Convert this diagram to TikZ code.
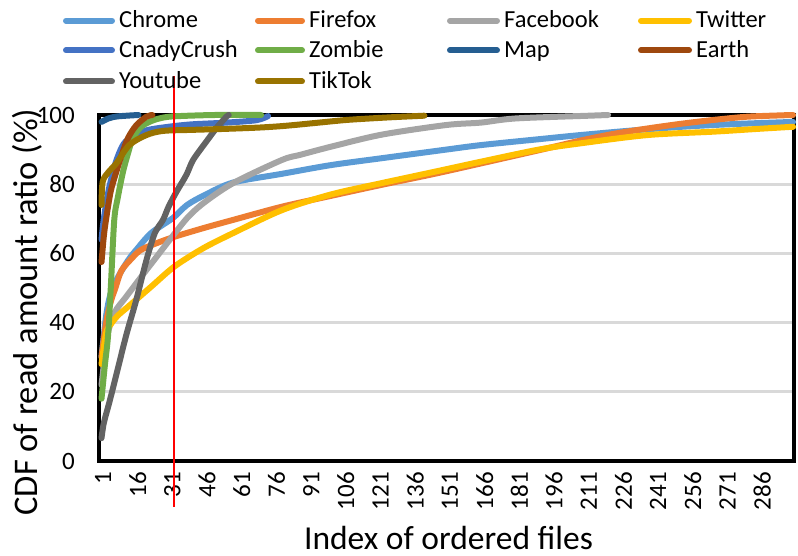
\documentclass[tikz,border=0pt]{standalone}
\usepackage{fontspec}
\setmainfont{Carlito}
\definecolor{cChrome}{HTML}{5B9BD5}
\definecolor{cFirefox}{HTML}{ED7D31}
\definecolor{cFacebook}{HTML}{A5A5A5}
\definecolor{cTwitter}{HTML}{FFC000}
\definecolor{cCandy}{HTML}{4472C4}
\definecolor{cZombie}{HTML}{70AD47}
\definecolor{cMap}{HTML}{255E91}
\definecolor{cEarth}{HTML}{9E480E}
\definecolor{cYoutube}{HTML}{636363}
\definecolor{cTikTok}{HTML}{997300}
\definecolor{cGrid}{HTML}{D9D9D9}
\newcommand\legentry[6]{%
  \draw[legline, #2] (#3,#5) -- (#4,#5);
  \node[legtext, anchor=base west] (leg#1) at (#4+7,#6) {#1};}
\begin{document}
\begin{tikzpicture}[x=1pt,y=-1pt,
  series/.style={line width=6pt, line cap=round, line join=round},
  legline/.style={line width=6pt, line cap=round},
  legtext/.style={font=\fontsize{24.5}{26}\selectfont, inner sep=0pt},
  ticklab/.style={font=\fontsize{25}{27}\selectfont, inner sep=0pt},
  gridline/.style={cGrid, line width=3pt},
  frame/.style={black, line width=3.6pt, line cap=rect},
  marker/.style={red, line width=2.2pt}]
\useasboundingbox (0,0) rectangle (798,556);
% grid
\foreach \v in {20,40,60,80} \draw[gridline] (99,{461-3.46*\v}) -- (794,{461-3.46*\v});
% frame
\draw[frame] (99,115) rectangle (794,461);
% y tick labels
\foreach \v in {0,20,40,60,80,100} \node[ticklab, anchor=east] (y\v) at (75,{461-3.46*\v}) {\v};
% x tick labels
\foreach \k in {0,...,19} {
  \pgfmathtruncatemacro\lab{1+15*\k}
  \node[ticklab, rotate=90, anchor=east] (x\k) at ({103+34.695*\k},472) {\lab};
}
% axis titles
\node[font=\fontsize{33.5}{35}\selectfont, inner sep=0pt, anchor=base] (xtitle) at (448.5,549) {Index of ordered files};
\node[font=\fontsize{34.5}{36}\selectfont, inner sep=0pt, rotate=90, anchor=base] (ytitle) at (37,312) {CDF of read amount ratio (\%)};
% series
\begin{scope}[shift={(99.2pt,-461pt)}, x=2.313pt, y=3.46pt]
\draw[series, cChrome] plot[smooth, tension=0.5] coordinates {(1,30) (3,42) (5,48.5) (8,53) (12.5,58) (16,61) (22.5,65.9) (32,70.3) (38,74) (46,77) (58,80.5) (79,83) (100,85.5) (122,87.5) (150,90) (165,91.3) (190,93) (208,94.2) (230,95.5) (252,96.6) (275,97.4) (300,98)};
\draw[series, cFirefox] plot[smooth, tension=0.5] coordinates {(1,30) (3,40) (5,46) (7,50) (9.6,55) (14,58.5) (18,61) (25,63) (32.5,64.8) (45,67.3) (58,69.7) (79,73.5) (100,76.6) (122,79.8) (145,83) (165,86) (190,89.8) (208,92.6) (222,94.5) (237,96.1) (252,97.5) (266,98.6) (280,99.5) (295,99.9) (300,100)};
\draw[series, cFacebook] plot[smooth, tension=0.5] coordinates {(1,22) (2,28) (3,35) (6.6,42.8) (11.7,47.5) (20.4,55.2) (22.5,57) (30,63.5) (38.4,70.5) (46,75) (58.4,80.5) (79,87) (87,88.5) (100,90.8) (122,94.3) (150,97.1) (165,97.8) (180,99) (212,99.8) (220,100)};
\draw[series, cTwitter] plot[smooth, tension=0.5] coordinates {(1,28) (3,37) (5,39.5) (8,42) (12.5,44.6) (22.5,50.4) (32.5,56.2) (45,61.5) (58,65.9) (79,72.5) (100,77) (122,80.3) (145,83.6) (165,86.5) (190,90) (208,91.8) (237,94.2) (266,95.2) (285,96) (300,96.6)};
\draw[series, cCandy] plot[smooth, tension=0.5] coordinates {(1,64) (2,70) (4,78) (7,86) (10,91) (13,93.2) (20,95.5) (30,96.6) (40,97.3) (55,97.8) (68,98.5) (73,99.7)};
\draw[series, cZombie] plot[smooth, tension=0.5] coordinates {(1,18) (2.5,28) (3.8,36) (5,50) (6.5,69.6) (8,76) (10.3,83.6) (12.5,89) (14.6,93.4) (18,96.5) (21.7,98) (26,99) (32,99.6) (50,100) (70,100)};
\draw[series, cMap] plot[smooth, tension=0.5] coordinates {(1,98) (4,99) (8,99.6) (17,100)};
\draw[series, cEarth] plot[smooth, tension=0.5] coordinates {(1,57.5) (2,65) (3,70) (5,78) (7.4,83.6) (10,89) (12.5,93.4) (16,97) (20.4,99.5) (23,100)};
\draw[series, cYoutube] plot[smooth, tension=0.5] coordinates {(1,6.6) (2,11) (4.4,17) (7.4,24.9) (11.7,36.4) (16,46.5) (20.4,58) (24,65.8) (27.6,69.7) (30,73.5) (33.4,77.8) (37.7,82.7) (40.6,87) (46.3,92.3) (51,96.5) (55,99.5) (56,100)};
\draw[series, cTikTok] plot[smooth, tension=0.5] coordinates {(1,74) (1.5,80.7) (4,83.5) (7.4,86) (13,91.3) (20.4,94.2) (27.6,95.4) (40,95.7) (55,96) (70,96.4) (81,96.9) (95,97.8) (107.6,98.6) (125,99.3) (140.6,99.8)};
\end{scope}
% red marker line
\coordinate (redtop) at (173.7,76);
\coordinate (redbot) at (173.7,507);
\draw[marker] (redtop) -- (redbot);
% legend
\legentry{Chrome}{cChrome}{66}{112}{20.7}{27.5}
\legentry{Firefox}{cFirefox}{258}{302}{20.7}{27.5}
\legentry{Facebook}{cFacebook}{450}{497}{20.7}{27.5}
\legentry{Twitter}{cTwitter}{641}{689}{20.7}{27.5}
\legentry{CnadyCrush}{cCandy}{66}{112}{50.3}{57.3}
\legentry{Zombie}{cZombie}{258}{302}{50.3}{57.3}
\legentry{Map}{cMap}{450}{497}{50.3}{57.3}
\legentry{Earth}{cEarth}{641}{689}{50.3}{57.3}
\legentry{Youtube}{cYoutube}{66}{112}{81.5}{88.3}
\legentry{TikTok}{cTikTok}{258}{302}{81.5}{88.3}
\end{tikzpicture}
\end{document}
